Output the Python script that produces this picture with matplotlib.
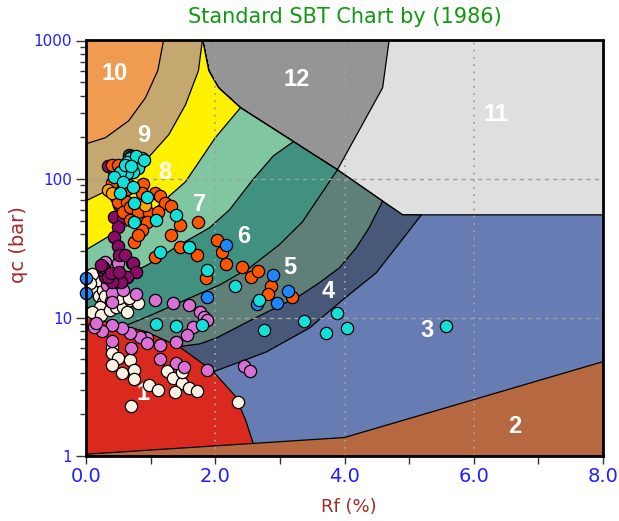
import matplotlib
matplotlib.use("Agg")
import matplotlib.pyplot as plt
from matplotlib.patches import Polygon
from matplotlib.ticker import FixedLocator, LogLocator, NullFormatter, FixedFormatter

# ---------------- zone geometry (Rf %, qc bar) ----------------
env_rf = [0.0, 1.80, 1.82, 1.90, 2.05, 2.39, 3.21, 3.89, 4.59, 4.90, 8.0]
env_qc = [1000, 1000, 930, 605, 456, 327, 186, 116.5, 69.2, 55.1, 55.1]

z12_rf = [1.80, 4.69, 4.59, 3.89, 3.21, 2.39, 2.05, 1.90, 1.82]
z12_qc = [1000, 1000, 456, 116.5, 186, 327, 456, 605, 930]

b34_rf = [0.0, 1.45, 1.96, 2.38, 2.79, 3.46, 3.97, 4.49, 4.89, 5.19]
b34_qc = [1.31, 2.15, 4.04, 4.78, 5.64, 8.41, 13.4, 21.0, 36.4, 55.1]
b45_rf = [0.0, 0.98, 1.39, 1.76, 2.02, 2.53, 3.30, 3.61, 3.92, 4.18, 4.38, 4.59]
b45_qc = [2.15, 3.85, 6.13, 6.45, 7.12, 9.45, 14.3, 17.8, 22.8, 31.8, 44.4, 69.2]
b56_rf = [0.0, 0.60, 0.98, 1.54, 2.07, 2.53, 2.99, 3.35, 3.61, 3.89]
b56_qc = [6.34, 8.70, 10.27, 13.4, 17.2, 22.8, 33.5, 49.1, 74.4, 116.5]
b67_rf = [0.0, 0.52, 0.98, 1.45, 1.91, 2.22, 2.58, 2.90, 3.21]
b67_qc = [15.06, 18.7, 24.4, 33.5, 44.4, 59.9, 98.7, 147, 186]
b78_rf = [0.0, 0.68, 1.08, 1.54, 2.00, 2.39]
b78_qc = [30.8, 47.5, 61.9, 95.5, 198.6, 327]
b89_rf = [0.0, 0.51, 0.92, 1.28, 1.54, 1.74, 1.80]
b89_qc = [69.6, 90.8, 135.4, 208.6, 343.6, 605, 1000]
b910_rf = [0.0, 0.30, 0.66, 0.92, 1.11, 1.20]
b910_qc = [179.6, 198.6, 263, 386, 605, 1000]

z1_rf = [0.0, 0.41, 0.94, 1.45, 1.96, 2.31, 2.47, 2.59]
z1_qc = [9.94, 9.14, 7.87, 6.13, 4.11, 2.71, 1.82, 1.22]
z2_rf = [0.0, 4.0, 8.0]
z2_qc = [1.03, 1.36, 4.8]

zone_colors = {
    1: "#da2a20", 2: "#b66840", 3: "#687cb4", 4: "#485878", 5: "#5f8078",
    6: "#40917f", 7: "#80c6a0", 8: "#fff200", 9: "#c4a870", 10: "#f09c50",
    11: "#dfdfdf", 12: "#959595",
}

lab_txt = ["1", "2", "3", "4", "5", "6", "7", "8", "9", "10", "11", "12"]
lab_rf = [0.88, 6.64, 5.27, 3.74, 3.16, 2.44, 1.76, 1.22, 0.89, 0.44, 6.35, 3.26]
lab_qc = [2.85, 1.62, 8.0, 15.3, 22.8, 38.2, 65.1, 110.9, 205, 575, 291, 521]

# ---------------- CPT data points ----------------
white_rf = [0.04, 0.13, 0.09, 0.20, 0.26, 0.21, 0.10, 0.23, 0.37, 0.47, 0.57, 0.68, 0.80, 0.63,
            0.41, 0.41, 0.49, 0.41, 0.55, 0.68, 0.74, 0.74, 0.97, 1.11, 0.69, 1.26, 1.34, 1.48,
            1.60, 1.71, 1.37, 2.35, 1.48, 0.26, 0.18, 0.29, 0.38, 0.51, 0.66, 0.09, 0.06]
white_qc = [19.3, 18.1, 15.8, 14.3, 13.0, 11.9, 11.0, 10.4, 11.35, 11.9, 11.9, 13.4, 12.7, 11.0,
            6.13, 5.55, 5.11, 4.55, 3.98, 4.94, 4.18, 3.60, 3.26, 3.0, 2.30, 4.11, 3.66, 3.37,
            3.10, 2.95, 2.90, 2.45, 4.04, 15.8, 18.7, 14.3, 13.2, 13.9, 13.9, 20.6, 17.6]

orchid_rf = [0.29, 0.49, 0.71, 0.32, 0.40, 0.57, 0.41, 0.78, 1.06, 1.34, 1.60, 1.76, 1.82, 1.88,
             1.65, 1.56, 1.40, 1.14, 0.95, 0.83, 0.68, 0.55, 0.41, 0.24, 0.13, 0.41, 0.69, 1.15,
             1.39, 1.51, 1.87, 2.44, 2.53, 0.94, 0.64, 0.15]
orchid_qc = [25.2, 24.8, 24.8, 17.2, 15.1, 15.8, 13.0, 14.8, 13.4, 12.7, 12.3, 11.0, 10.1, 9.6,
             8.55, 7.48, 6.67, 6.34, 7.12, 7.24, 7.74, 8.41, 8.84, 8.0, 8.55, 6.78, 6.03, 5.02,
             4.70, 4.40, 4.18, 4.47, 4.11, 6.55, 19.7, 9.14]

purple_rf = [0.34, 0.43, 0.46, 0.51, 0.44, 0.57, 0.49, 0.43, 0.49, 0.51, 0.61, 0.72, 0.77, 0.64,
             0.54, 0.41, 0.30, 0.26, 0.27, 0.34, 0.38, 0.51, 0.23]
purple_qc = [124.5, 114.6, 74.4, 65.1, 53.3, 52.4, 45.1, 38.2, 32.9, 28.3, 28.3, 24.8, 21.3, 19.7,
             18.1, 18.1, 19.7, 22.1, 23.2, 19.7, 21.0, 21.3, 24.0]

orange_rf = [0.41, 0.49, 0.41, 0.66, 0.88, 0.64, 0.86, 1.06, 1.15, 1.23, 1.31, 0.49, 0.63, 0.57,
             0.68, 0.80, 0.98, 1.11, 0.68, 0.94, 0.86, 0.75, 0.81, 1.32, 1.45, 1.74, 1.45, 1.60,
             1.71, 1.06, 2.02, 2.11, 2.16, 1.85, 2.42, 2.56, 2.66, 2.87, 2.81, 3.19]
orange_qc = [127, 127, 94, 91, 92, 84, 79.5, 79.5, 75.6, 67.3, 64.0, 68.4, 68.4, 58.0,
             63.0, 58.0, 57.0, 58.0, 50.7, 49.1, 42.9, 35.2, 39.5, 39.5, 46.7, 49.1, 32.4, 32.4,
             28.3, 27.4, 36.4, 29.8, 24.4, 19.3, 23.2, 19.7, 21.7, 16.9, 14.8, 14.1]

amber_rf = [0.34, 0.40, 0.92]
amber_qc = [83.6, 79.5, 65.1]

brown_rf = [0.66, 0.71]
brown_qc = [150, 147]

blue_rf = [0.0, 0.0, 2.16, 1.87, 2.90, 3.12, 2.95, 2.64]
blue_qc = [19.3, 15.1, 33.5, 14.1, 20.3, 15.6, 12.7, 12.5]

cyan_rf = [0.68, 0.75, 0.83, 0.80, 0.72, 0.63, 0.52, 0.44, 0.57, 0.72, 0.52, 0.94, 0.75, 1.09,
           0.75, 1.40, 1.14, 1.59, 1.87, 2.30, 2.68, 1.09, 1.40, 1.80, 2.76, 3.38, 3.89, 3.72,
           4.04, 5.57, 0.64, 0.86, 0.78, 0.60, 0.69, 0.89]
cyan_qc = [142, 138, 131, 120, 113, 111, 113, 104, 95.5, 87.8, 79.5, 74.4, 67.3, 50.7,
           49.1, 55.1, 29.8, 32.4, 22.1, 16.9, 13.4, 9.0, 8.7, 8.84, 8.13, 9.45, 10.8, 7.74,
           8.41, 8.70, 133, 142, 147, 127, 124.5, 138]

# ---------------- figure ----------------
fig = plt.figure(figsize=(6.19, 5.21), dpi=100)
ax = fig.add_axes([86 / 619, 1 - 456 / 521, 517 / 619, 415.5 / 521])
ax.set_yscale("log")
ax.set_xlim(0, 8)
ax.set_ylim(1, 1000)
ax.set_facecolor(zone_colors[11])

env = list(zip(env_rf, env_qc))


def env_left_of(x_end):
    pts = [p for p in env if p[0] < x_end - 1e-6]
    return pts[::-1]


def band(brf, bqc):
    return list(zip(brf, bqc)) + env_left_of(brf[-1])


polys = [
    (12, list(zip(z12_rf, z12_qc))),
    (3, env + [(8.0, 1.0), (0.0, 1.0)]),
    (4, band(b34_rf, b34_qc)),
    (5, band(b45_rf, b45_qc)),
    (6, band(b56_rf, b56_qc)),
    (7, band(b67_rf, b67_qc)),
    (8, band(b78_rf, b78_qc)),
    (9, band(b89_rf, b89_qc)),
    (10, band(b910_rf, b910_qc)),
    (1, list(zip(z1_rf, z1_qc)) + [(z1_rf[-1], 1.0), (0.0, 1.0)]),
    (2, list(zip(z2_rf, z2_qc)) + [(8.0, 1.0), (0.0, 1.0)]),
]
for z, pts in polys:
    ax.add_patch(Polygon(pts, closed=True, facecolor=zone_colors[z],
                         edgecolor="black", linewidth=0.9, zorder=1))

# grid
for xv in [2, 4, 6]:
    ax.axvline(xv, color="#a0a0a0", linestyle=(0, (1, 3)), linewidth=1.3, zorder=1.5)
for yv in [10, 100]:
    ax.axhline(yv, color="#a0a0a0", linestyle=(0, (3, 3)), linewidth=1.0, zorder=1.5)

for t, x, y in zip(lab_txt, lab_rf, lab_qc):
    ax.text(x, y, t, color="white", fontsize=17, fontweight="bold",
            family="Liberation Sans", ha="center", va="center", zorder=2)

ms = 78
groups = [
    (white_rf, white_qc, "#fcf1e3"),
    (orchid_rf, orchid_qc, "#da70d6"),
    (purple_rf, purple_qc, "#8c0a68"),
    (orange_rf, orange_qc, "#ff5500"),
    (amber_rf, amber_qc, "#ffa500"),
    (brown_rf, brown_qc, "#5c3c10"),
    (blue_rf, blue_qc, "#1e86ff"),
    (cyan_rf, cyan_qc, "#14e0da"),
]
for i, (xs, ys, c) in enumerate(groups):
    ax.scatter(xs, ys, s=ms, c=c, edgecolors="black", linewidths=0.9, zorder=3 + i * 0.1,
               clip_on=False)

# ticks
ax.xaxis.set_major_locator(FixedLocator([0, 2, 4, 6, 8]))
ax.xaxis.set_minor_locator(FixedLocator([1, 3, 5, 7]))
ax.set_xticklabels(["0.0", "2.0", "4.0", "6.0", "8.0"])
ax.yaxis.set_major_locator(FixedLocator([1, 10, 100, 1000]))
ax.yaxis.set_major_formatter(FixedFormatter(["1", "10", "100", "1000"]))
ax.yaxis.set_minor_locator(LogLocator(base=10, subs=range(2, 10)))
ax.yaxis.set_minor_formatter(NullFormatter())
ax.tick_params(axis="x", which="both", direction="out", length=6, width=1, color="#333333",
               labelsize=14, labelcolor="#2020ff", pad=2)
ax.tick_params(axis="y", which="major", direction="out", length=7, width=1, color="#333333",
               labelsize=11, labelcolor="#2020ff", pad=3)
ax.tick_params(axis="y", which="minor", direction="out", length=4, width=1, color="#333333")
for sp in ax.spines.values():
    sp.set_linewidth(2)
    sp.set_color("black")
    sp.set_zorder(5)

fig.text(345 / 619, 1 - 17 / 521, "Standard SBT Chart by (1986)", color="#119911",
         fontsize=15, ha="center", va="center")
fig.text(18 / 619, 1 - 245 / 521, "qc (bar)", color="#a52a2a", fontsize=14,
         rotation=90, ha="center", va="center")
fig.text(349 / 619, 1 - 507 / 521, "Rf (%)", color="#a52a2a", fontsize=13,
         ha="center", va="center")

fig.savefig("out.png", dpi=100)
